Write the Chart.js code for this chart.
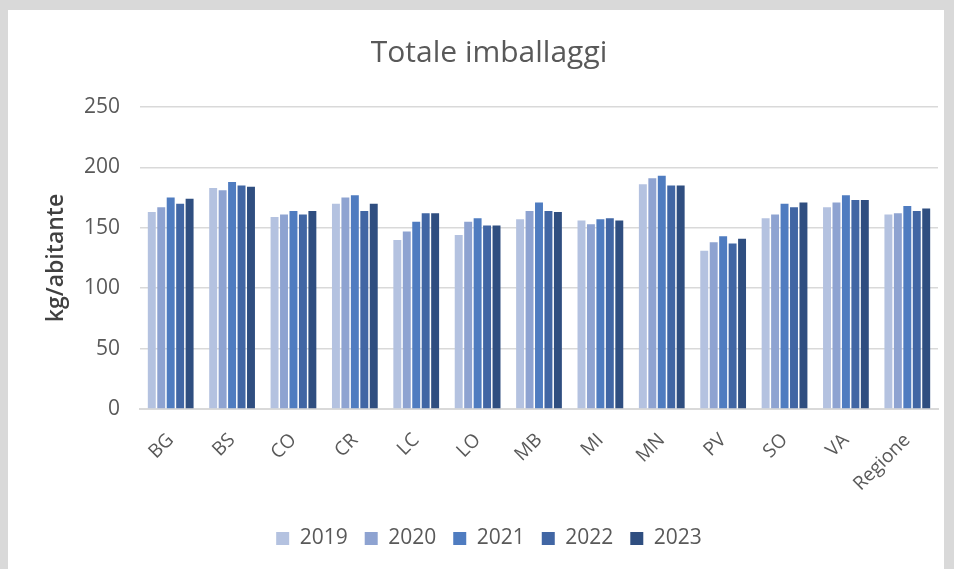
<!DOCTYPE html>
<html>
<head>
<meta charset="utf-8">
<script src="https://cdn.jsdelivr.net/npm/chart.js@4"></script>
<style>
  html, body { margin: 0; padding: 0; background: #d9d9d9; }
  #box { position: absolute; left: 8px; top: 10px; width: 936px; height: 559px; background: #fff; }
</style>
</head>
<body>
<div id="box"><canvas id="chart" width="936" height="559"></canvas></div>
<script>
const province = ["BG", "BS", "CO", "CR", "LC", "LO", "MB", "MI", "MN", "PV", "SO", "VA", "Regione"];
const anni = ["2019", "2020", "2021", "2022", "2023"];

const v2019 = [163, 183, 159, 170, 140, 144, 157, 156, 186, 131, 158, 167, 161];
const v2020 = [167, 181, 161, 175, 147, 155, 164, 153, 191, 138, 161, 171, 162];
const v2021 = [175, 188, 164, 177, 155, 158, 171, 157, 193, 143, 170, 177, 168];
const v2022 = [170, 185, 161, 164, 162, 152, 164, 158, 185, 137, 167, 173, 164];
const v2023 = [174, 184, 164, 170, 162, 152, 163, 156, 185, 141, 171, 173, 166];

const yTicks = [0, 50, 100, 150, 200, 250];

const colori = ["#b4c2e0", "#8ea3d1", "#4f7cc0", "#4166a4", "#2f4e80"];
const serie = [v2019, v2020, v2021, v2022, v2023];

const ctx = document.getElementById("chart");
new Chart(ctx, {
    type: 'bar',
    data: {
        labels: province,
        datasets: serie.map((s, i) => ({
            label: anni[i],
            data: s,
            backgroundColor: colori[i],
            barPercentage: 0.84,
            categoryPercentage: 0.77
        }))
    },
    options: {
        responsive: false,
        animation: false,
        // padding a sinistra per centrare titolo e legenda come nell'originale
        layout: { padding: { left: 32, right: 6, top: 0, bottom: 10 } },
        plugins: {
            title: {
                display: true,
                text: "Totale imballaggi",
                color: "#595959",
                font: { family: "Open Sans", size: 30, weight: 'normal' },
                padding: { top: 25, bottom: 36 }
            },
            legend: {
                position: 'bottom',
                labels: {
                    color: "#595959",
                    font: { family: "Open Sans", size: 21 },
                    boxWidth: 13,
                    boxHeight: 13,
                    padding: 17
                }
            },
            tooltip: { enabled: false }
        },
        scales: {
            x: {
                grid: { display: false, drawTicks: false },
                border: { color: "#d9d9d9", width: 2 },
                afterFit: axis => { axis.height = 102; },
                ticks: {
                    color: "#595959",
                    font: { family: "Open Sans", size: 19 },
                    minRotation: 45,
                    maxRotation: 45,
                    padding: 20
                }
            },
            y: {
                min: 0,
                max: 250,
                afterBuildTicks: axis => { axis.ticks = yTicks.map(v => ({ value: v })); },
                afterFit: axis => { axis.width = 100; },
                grid: { color: "#d9d9d9", lineWidth: 1.5, drawTicks: false },
                border: { display: false },
                ticks: {
                    color: "#595959",
                    font: { family: "Open Sans", size: 21 },
                    padding: 20
                },
                title: {
                    display: true,
                    text: "kg/abitante",
                    color: "#404040",
                    font: { family: "Open Sans", size: 23, weight: 600 },
                    padding: { top: 3, bottom: 0 }
                }
            }
        }
    }
});
</script>
</body>
</html>
